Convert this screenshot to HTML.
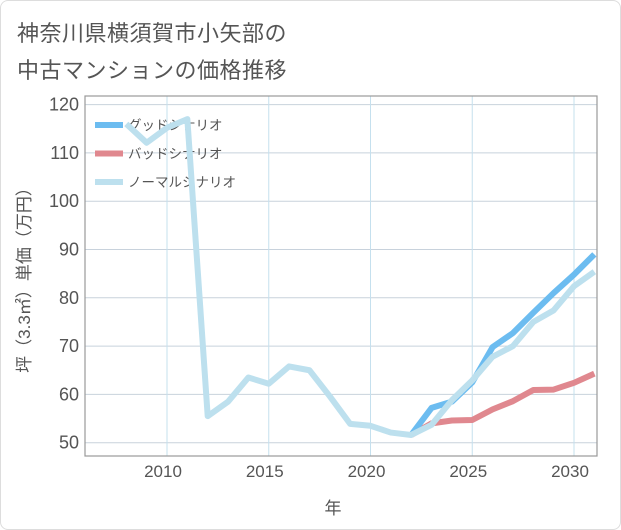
<!DOCTYPE html>
<html><head><meta charset="utf-8"><style>
body{margin:0;background:#fff;}
#wrap{position:relative;width:619px;height:528px;border:1px solid #ddd;border-radius:8px;background:#fff;overflow:hidden;font-family:"Liberation Sans","Noto Sans CJK JP",sans-serif;}
.title{position:absolute;left:16px;font-size:22px;color:#555;letter-spacing:0.5px;}
</style></head><body>
<div id="wrap">
<div class="title" style="top:15px">神奈川県横須賀市小矢部の</div>
<div class="title" style="top:52px">中古マンションの価格推移</div>
<svg id="chart" width="621" height="530" style="position:absolute;left:-1px;top:-1px"></svg>
</div>
<script>
const years=[2008,2009,2010,2011,2012,2013,2014,2015,2016,2017,2018,2019,2020,2021,2022,2023,2024,2025,2026,2027,2028,2029,2030,2031];
const normal=[116,112.1,115.2,117,55.5,58.5,63.5,62.2,65.8,65,59.6,53.9,53.5,52.1,51.6,53.7,58.8,62.9,67.8,70,75,77.4,82.4,85.4];
const goodYears=[2022,2023,2024,2025,2026,2027,2028,2029,2030,2031];
const good=[51.6,57.2,58.5,62.5,69.8,72.7,76.9,81,84.8,89];
const bad=[51.6,54,54.6,54.7,56.9,58.6,60.9,61,62.4,64.3];
const yTicks=[50,60,70,80,90,100,110,120];
const xTicks=[2010,2015,2020,2025,2030];
const NS="http://www.w3.org/2000/svg";
const svg=document.getElementById('chart');
const L=85,R=597,T=96,B=456;
const x=v=>167+(v-2010)*20.35;
const y=v=>442.7-(v-50)*4.83;
function mk(t,a){const e=document.createElementNS(NS,t);for(const k in a)e.setAttribute(k,a[k]);svg.appendChild(e);return e;}
yTicks.forEach(v=>{
 let g=mk('line',{x1:L,x2:R,y1:y(v),y2:y(v),stroke:'#c8d2dc','stroke-width':1});
 
 
 let t=mk('text',{x:L-6,y:y(v)+6,'text-anchor':'end','font-size':18,fill:'#555'});
 t.textContent=v;
 
 
});
xTicks.forEach(v=>{
 let g=mk('line',{x1:x(v),x2:x(v),y1:T,y2:B,stroke:'#c5e0ee','stroke-width':1});
 
 
 let t=mk('text',{x:x(v)-4,y:B+21,'text-anchor':'middle','font-size':17,fill:'#555'});
 t.textContent=v;
 
 
});
let fr=mk('rect',{x:L,y:T,width:R-L,height:B-T,fill:'none',stroke:'#999','stroke-width':1.2});


[['グッドシナリオ','#6cbcf0'],['バッドシナリオ','#e0888f'],['ノーマルシナリオ','#bde0ee']].forEach((d,i)=>{
 const yy=125+i*28.5;
 let s=mk('line',{x1:95,x2:123,y1:yy,y2:yy,stroke:d[1],'stroke-width':6});
 
 
 let t=mk('text',{x:128,y:yy+5,'font-size':13.5,fill:'#555'});
 t.textContent=d[0];
 
 
});
function line(xs,vs,c,name){
 const p=mk('polyline',{points:xs.map((yr,i)=>x(yr)+','+y(vs[i])).join(' '),fill:'none',stroke:c,'stroke-width':6,'stroke-linejoin':'round'});
 
 
}
line(goodYears,bad,'#e0888f','bad-scenario-line');
line(goodYears,good,'#6cbcf0','good-scenario-line');
line(years,normal,'#bde0ee','normal-scenario-line');
let xl=mk('text',{x:333,y:514,'text-anchor':'middle','font-size':17,fill:'#555'});
xl.textContent='年';


let yl=mk('text',{x:0,y:0,'text-anchor':'middle','font-size':17,fill:'#555',transform:'translate(30,276) rotate(-90)'});
yl.textContent='坪（3.3㎡）単価（万円）';


</script>
</body></html>
